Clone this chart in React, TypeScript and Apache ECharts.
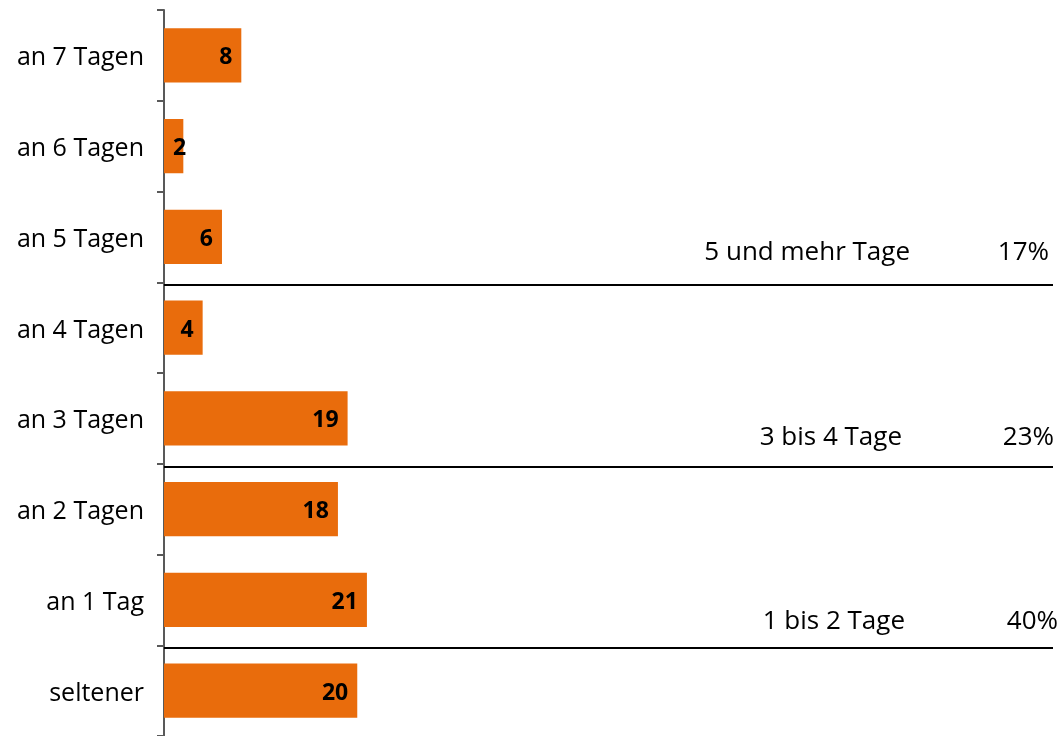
import React, { useEffect, useRef } from 'react';
import * as echarts from 'echarts';

const categories = ['seltener', 'an 1 Tag', 'an 2 Tagen', 'an 3 Tagen', 'an 4 Tagen', 'an 5 Tagen', 'an 6 Tagen', 'an 7 Tagen'];
const values = [20, 21, 18, 19, 4, 6, 2, 8];
const groupNames = ['5 und mehr Tage', '3 bis 4 Tage', '1 bis 2 Tage'];
const groupShares = ['17%', '23%', '40%'];
const groupBoundaries = [5, 3, 1];

const FONT = '"Open Sans", Lato, sans-serif';
const nameRight = [910, 902, 905];
const shareRight = [1049, 1054, 1058];
const textLift = [35, 31, 29];

export default function App() {
  const ref = useRef<HTMLDivElement>(null);
  useEffect(() => {
    const chart = echarts.init(ref.current!, null, { renderer: 'svg' });
    chart.setOption({
      animation: false,
      grid: { left: 164, top: 10, width: 889, height: 729, containLabel: false },
      xAxis: { type: 'value', min: 0, max: 92, show: false },
      yAxis: [
        {
          type: 'category',
          data: categories,
          axisLine: { show: true, lineStyle: { color: '#595959', width: 2 } },
          axisTick: { show: true, length: 7, lineStyle: { color: '#595959', width: 2 } },
          axisLabel: { color: '#000', fontSize: 25, fontFamily: FONT, margin: 20 },
          splitLine: { show: false },
        },
        { type: 'value', min: 0.03, max: 8.03, show: false, position: 'left' },
      ],
      series: [
        {
          type: 'bar',
          data: values.map((v) => (v < 3 ? { value: v, label: { position: 'insideLeft' } } : v)),
          barCategoryGap: '40%',
          itemStyle: { color: '#E96C0C' },
          label: {
            show: true,
            position: 'insideRight',
            distance: 9,
            color: '#000',
            fontWeight: 'bold',
            fontSize: 23,
            fontFamily: FONT,
          },
        },
        {
          type: 'line',
          yAxisIndex: 1,
          data: [],
          markLine: {
            symbol: 'none',
            silent: true,
            label: { show: false },
            lineStyle: { color: '#000', width: 2, type: 'solid' },
            data: groupBoundaries.map((b) => ({ yAxis: b })),
          },
        },
      ],
    });
    const graphic: any[] = [];
    groupBoundaries.forEach((b, i) => {
      const y = chart.convertToPixel({ yAxisIndex: 1 }, b) as number;
      graphic.push({
        type: 'text',
        x: nameRight[i],
        y: y - textLift[i],
        style: { text: groupNames[i], fill: '#000', font: `26px ${FONT}`, textAlign: 'right', textVerticalAlign: 'middle' },
      });
      graphic.push({
        type: 'text',
        x: shareRight[i],
        y: y - textLift[i],
        style: { text: groupShares[i], fill: '#000', font: `26px ${FONT}`, textAlign: 'right', textVerticalAlign: 'middle' },
      });
    });
    chart.setOption({ graphic });
    return () => chart.dispose();
  }, []);
  return <div ref={ref} style={{ position: 'fixed', left: 0, top: 0, width: 1064, height: 736 }} />;
}
